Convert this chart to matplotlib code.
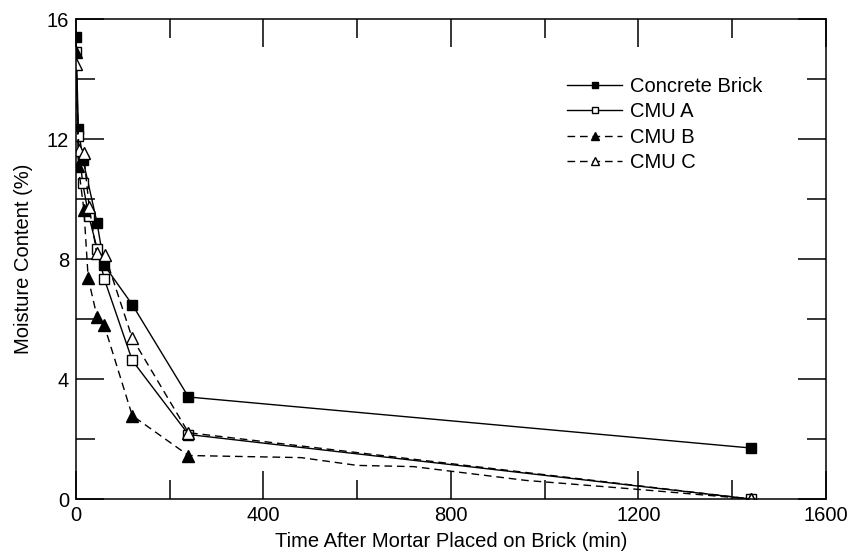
import matplotlib.pyplot as plt

plt.rcParams['font.family'] = ['Liberation Sans', 'DejaVu Sans']

# Moisture content of the units after the mortar is placed
t_brick = [0, 5, 15, 45, 60, 120, 240, 1440]
mc_brick = [15.4, 12.35, 11.3, 9.2, 7.8, 6.48, 3.4, 1.7]

t_cmu_a = [0, 4, 14, 27, 45, 60, 120, 240, 1440]
mc_cmu_a = [14.9, 12.1, 10.55, 9.45, 8.35, 7.35, 4.62, 2.15, 0.0]

# CMU B was also read between 240 and 1440 min (no symbols there)
t_cmu_b = [0, 5, 17, 26, 45, 60, 120, 240, 480, 600, 720, 960, 1200, 1440]
mc_cmu_b = [14.9, 11.1, 9.62, 7.36, 6.07, 5.8, 2.78, 1.45,
            1.38, 1.12, 1.08, 0.62, 0.32, 0.0]
mark_cmu_b = [0, 1, 2, 3, 4, 5, 6, 7, 13]

t_cmu_c = [0, 6, 16, 28, 44, 62, 120, 240, 1440]
mc_cmu_c = [14.5, 11.65, 11.55, 9.75, 8.2, 8.12, 5.36, 2.21, 0.0]

fs = 14.5

fig = plt.figure(figsize=(8.53, 5.56), dpi=100)
ax = fig.add_axes([0.0891, 0.1025, 0.8792, 0.8633])

dash = (0, (5.5, 3.5))
ax.plot(t_brick, mc_brick, color='black', lw=1.0, marker='s', ms=7,
        mfc='black', mec='black', label='Concrete Brick')
ax.plot(t_cmu_a, mc_cmu_a, color='black', lw=1.0, marker='s', ms=7,
        mfc='white', mec='black', mew=1.0, label='CMU A')
ax.plot(t_cmu_b, mc_cmu_b, color='black', lw=1.0, ls=dash, marker='^', ms=8,
        mfc='black', mec='black', markevery=mark_cmu_b, label='CMU B')
ax.plot(t_cmu_c, mc_cmu_c, color='black', lw=1.0, ls=dash, marker='^', ms=8,
        mfc='white', mec='black', mew=1.0, label='CMU C')

ax.set_xlim(0, 1600)
ax.set_ylim(0, 16)
ax.set_xticks([0, 400, 800, 1200, 1600])
ax.set_xticks([200, 600, 1000, 1400], minor=True)
ax.set_yticks([0, 4, 8, 12, 16])
ax.set_yticks([2, 6, 10, 14], minor=True)

ax.tick_params(which='both', direction='in', top=True, right=True,
               width=1.1, labelsize=fs, pad=5)
ax.tick_params(which='major', length=20)
ax.tick_params(which='minor', length=13.5)
for s in ax.spines.values():
    s.set_linewidth(1.1)

ax.set_xlabel('Time After Mortar Placed on Brick (min)', fontsize=fs, labelpad=5)
ax.set_ylabel('Moisture Content (%)', fontsize=fs, labelpad=10)

ax.legend(loc='upper left', bbox_to_anchor=(0.644, 0.896), frameon=False,
          fontsize=fs, handlelength=2.73, handletextpad=0.4,
          labelspacing=0.32, markerscale=0.65, borderaxespad=0)

fig.savefig('out.png', dpi=100)
